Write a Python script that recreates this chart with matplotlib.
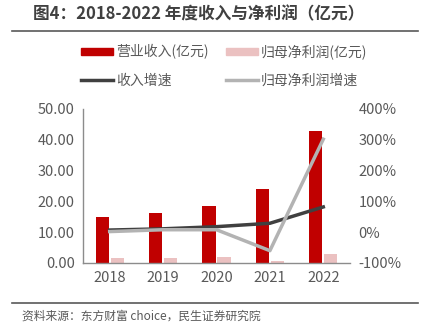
import matplotlib.pyplot as plt
import numpy as np
from matplotlib.lines import Line2D

plt.rcParams['font.family'] = ['Noto Sans CJK SC', 'DejaVu Sans']

years = ['2018', '2019', '2020', '2021', '2022']
revenue = [14.9, 16.1, 18.5, 23.9, 43.0]
net_profit = [1.6, 1.6, 1.8, 0.8, 2.8]
revenue_growth = [7, 11, 18, 29, 82]
profit_growth = [2, 8, 8, -60, 302]

text_color = '#595959'

fig = plt.figure(figsize=(4.23, 3.31), dpi=100)
ax = fig.add_axes([83 / 423, 1 - 263 / 331, 267 / 423, 154 / 331])
x = np.arange(len(years))
w = 0.245
ax.bar(x - 0.14, revenue, w, color='#C00000', label='营业收入(亿元)')
ax.bar(x + 0.14, net_profit, w, color='#EBC1C1', label='归母净利润(亿元)')
ax.set_xlim(-0.5, 4.5)
ax.set_ylim(0, 50)
ax.set_yticks([0, 10, 20, 30, 40, 50])
ax.set_yticklabels(['%.2f' % v for v in [0, 10, 20, 30, 40, 50]])
ax.set_xticks(x)
ax.set_xticklabels(years)
ax.tick_params(length=0, labelsize=10.5, colors=text_color, pad=6)
for s in ['top', 'right']:
    ax.spines[s].set_visible(False)
for s in ['left', 'bottom']:
    ax.spines[s].set_color('#8c8c8c')
    ax.spines[s].set_linewidth(1)

ax2 = ax.twinx()
ax2.plot(x, revenue_growth, color='#404040', lw=2.5, label='收入增速')
ax2.plot(x, profit_growth, color='#B3B3B3', lw=2.5, label='归母净利润增速')
ax2.set_ylim(-100, 400)
ax2.set_yticks([-100, 0, 100, 200, 300, 400])
ax2.set_yticklabels(['%d%%' % v for v in [-100, 0, 100, 200, 300, 400]])
ax2.tick_params(length=0, labelsize=10.5, colors=text_color, pad=6)
for s in ax2.spines.values():
    s.set_visible(False)

handles = [
    plt.Rectangle((0, 0), 1, 1, color='#C00000'),
    plt.Rectangle((0, 0), 1, 1, color='#EBC1C1'),
    Line2D([], [], color='#404040', lw=2.5),
    Line2D([], [], color='#B3B3B3', lw=2.5),
]
labels = ['营业收入(亿元)', '归母净利润(亿元)', '收入增速', '归母净利润增速']
order = [0, 2, 1, 3]
fig.legend([handles[i] for i in order], [labels[i] for i in order],
           ncol=2, loc='center', bbox_to_anchor=(0.53, 1 - 66 / 331),
           frameon=False, fontsize=10, labelcolor=text_color,
           handlelength=2.3, handleheight=0.45, columnspacing=1.2,
           labelspacing=1.0, handletextpad=0.25)

fig.text(33 / 423, 1 - 14 / 331, '图4：2018-2022 年度收入与净利润（亿元）',
         fontsize=12, fontweight='bold', color='#404040', va='center')
fig.add_artist(Line2D([12 / 423, 418 / 423], [1 - 31 / 331] * 2,
                      color='#595959', lw=1.2))
fig.add_artist(Line2D([12 / 423, 418 / 423], [1 - 303 / 331] * 2,
                      color='#595959', lw=1.2))
fig.text(22 / 423, 1 - 316 / 331, '资料来源：东方财富 choice，民生证券研究院',
         fontsize=8.5, color=text_color, va='center')

fig.savefig('out.png', dpi=100)
